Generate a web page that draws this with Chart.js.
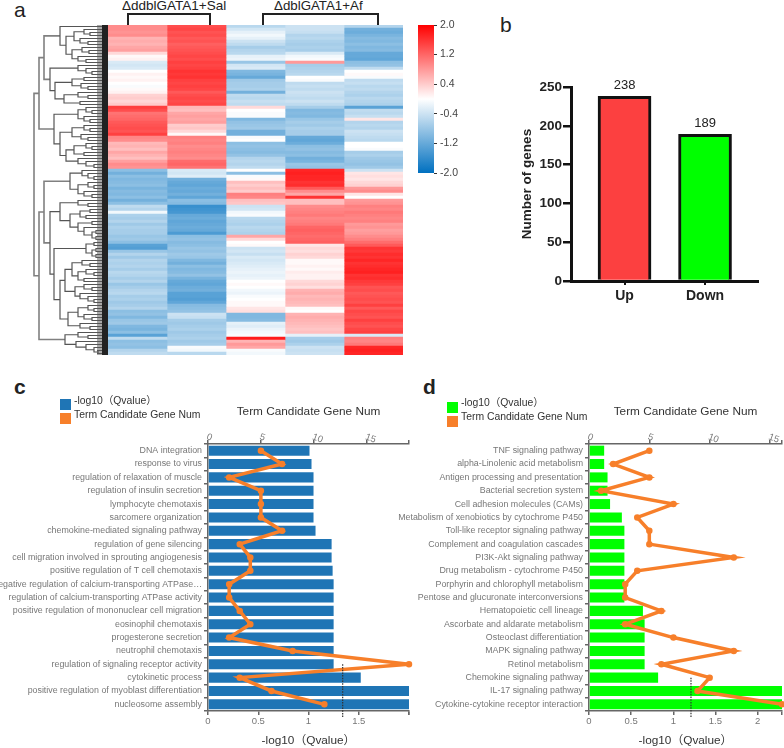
<!DOCTYPE html>
<html>
<head>
<meta charset="utf-8">
<title>DEG heatmap and enrichment</title>
<script src="https://cdn.jsdelivr.net/npm/chart.js@4"></script>
<style>
  html, body { margin: 0; padding: 0; background: #fff; }
  #page { position: relative; width: 784px; height: 748px; overflow: hidden; font-family: 'Liberation Sans', 'Noto Sans CJK SC', sans-serif; }
  canvas { position: absolute; }
  .txt { position: absolute; white-space: nowrap; color: #222; line-height: 1; }
  .panel { font-size: 21px; color: #222; }
  .bracket { position: absolute; height: 10px; border: 2px solid #222; border-bottom: none; }
  .swatch { position: absolute; width: 11px; height: 11px; }
</style>
</head>
<body>
<div id="page">
  <div class="txt panel" style="left:14px;top:-1px">a</div>
  <div class="txt panel" style="left:500px;top:14px">b</div>
  <div class="txt panel" style="left:14px;top:376px;font-weight:bold">c</div>
  <div class="txt panel" style="left:423px;top:376px;font-weight:bold">d</div>

  <div class="txt" style="left:122px;top:-1px;font-size:13.5px">ΔddblGATA1+Sal</div>
  <div class="txt" style="left:274px;top:-1px;font-size:13.3px">ΔdblGATA1+Af</div>
  <div class="bracket" style="left:127px;top:13px;width:80px"></div>
  <div class="bracket" style="left:262px;top:13px;width:113px"></div>

  <canvas id="dendro" width="78" height="330" style="left:30px;top:25px"></canvas>
  <canvas id="heat" width="295" height="330" style="left:108px;top:25px"></canvas>
  <canvas id="colorbar" width="60" height="170" style="left:410px;top:15px"></canvas>
  <canvas id="genes" width="274" height="260" style="left:510px;top:60px"></canvas>
  <canvas id="goUp" width="420" height="363" style="left:0;top:385px"></canvas>
  <canvas id="keggDown" width="430" height="363" style="left:380px;top:385px"></canvas>

  <div class="swatch" style="left:60px;top:399px;background:#1f75b5"></div>
  <div class="swatch" style="left:60px;top:413px;background:#f77f2a"></div>
  <div class="txt" style="left:74px;top:396px;font-size:10.4px;color:#333">-log10（Qvalue）</div>
  <div class="txt" style="left:74px;top:410px;font-size:10.4px;color:#333">Term Candidate Gene Num</div>
  <div class="swatch" style="left:447px;top:402px;background:#00ff00"></div>
  <div class="swatch" style="left:447px;top:416px;background:#f77f2a"></div>
  <div class="txt" style="left:461px;top:398px;font-size:10.4px;color:#333">-log10（Qvalue）</div>
  <div class="txt" style="left:461px;top:412px;font-size:10.4px;color:#333">Term Candidate Gene Num</div>
</div>

<script>
// panel a, z-scores per sample, read top to bottom
const heatSal1 = [.9,.9,.85,.9,.6,.65,.6,.7,.75,.3,
  .05,.1,-.3,-.35,-.3,0,.1,.05,.1,0,
  -.05,.05,.1,.35,.4,.3,.4,1.5,1.4,1.1,
  1.15,1.2,1.3,1.35,1.4,1.35,1.5,.95,.9,.55,
  .6,.5,.7,.6,.5,.75,.9,.85,-.9,-1.1,
  -.9,-1,-.95,-.9,-1.05,-.95,-1,-.9,-1.1,-.9,
  -.5,-.6,-.1,-.65,-.7,-.6,-.75,-.65,-.7,-.7,
  -.8,-.75,-.9,-1.3,-1.35,-.8,-.6,-.75,-.6,-.65,
  -.6,-.7,-.55,-.6,-.7,-.6,-.8,-.7,-.6,-.55,
  -.7,-.65,-.75,-.7,-.6,-.9,-.85,-1,-.8,-.75,
  -1,-1.05,-.9,-1.3,-.5,-.9,-.85,-.9,-.6,-.5];
const heatSal2 = [1.4,1.45,1.35,1.4,1.3,1.35,1.25,1.3,1.35,1.4,
  1.45,1.4,1.5,1.45,1.5,1.6,1.55,1.6,1.5,1.45,
  1.5,1.45,1.3,1.4,1.45,1.4,1.45,.55,.5,.7,
  .75,.7,.75,.4,.45,.3,.05,1,.95,1,
  .9,.95,1,.95,.9,1.15,1.2,1.1,-.3,-.35,
  -.25,-1.1,-1.2,-1.25,-1.15,-1.2,-1.1,-1.25,-.9,-.95,
  -1.55,-1.5,-1.45,-1.2,-1.15,-1.25,-1.2,-1.15,-1.2,-1.4,
  -.9,-.85,-.95,-.9,-.8,-.85,-.75,-.8,-1,-1.1,
  -.9,-1,-.95,-.85,-1.05,-1.2,-1.25,-1.15,-1.1,-1.3,
  -1.3,-1.35,-1.25,-.95,-.9,-.85,-.4,-.45,-.7,-.75,
  -.7,-.65,-.75,-.7,-.65,-.75,-.7,-.05,-.1,-.55];
const heatAf1 = [-.55,-.35,-.2,-.1,-.2,-.4,-.5,-.7,-.6,-.55,
  -.2,-.15,-.8,-.35,-.3,-1,-1.05,-1.2,-.75,-.7,
  -.7,-.65,-1.1,-.5,-.55,-.45,-.5,.3,0,-.05,
  -.05,-1,-.85,-.8,-.75,-1.1,-1.1,-.05,0,-.9,
  -.85,-.9,-.95,-.85,-.6,-.55,-.6,-.5,0,-.9,
  -.05,.05,.5,.4,.5,.4,1,.95,.5,.45,
  -.4,-.35,-.1,-.05,-.55,-.6,-.65,-.55,-.6,-.65,
  .7,.3,0,.05,-.4,-.35,-.45,-.3,-.35,-.3,
  -.25,-.2,-.15,-.2,-.15,0,.05,0,-.1,-.15,
  -.05,0,.05,.05,.2,.25,-1,-1,-.95,-.2,
  -.25,-.15,-.1,-.05,1.8,.6,.8,.7,-.05,-.1];
const heatAf2 = [-.4,-.4,-.45,-.6,-.55,-.65,-.7,-.65,-.7,-.3,
  -.1,-.05,.8,-.7,-.65,-.6,-.55,0,-.05,-.5,
  -.45,-.5,-.4,-.45,-.5,-.4,-.5,-.7,-1,-.95,
  -1,-.8,-.7,-.75,-.65,-.7,-.7,-1.2,-1.25,-1.15,
  -.9,-.85,-.95,-.9,-1.1,-1.05,-.8,-.85,1.7,1.75,
  1.7,1.7,1.6,1.65,1.3,.9,.7,1.6,.5,.5,
  .9,.95,1,1.05,.95,1,1.05,1.2,1.25,1.2,
  1.15,1.2,1.25,.2,.3,.25,.35,.3,.05,.05,
  .1,.05,.15,.1,.1,.3,.35,.25,.6,.65,
  .55,.6,.55,.5,.05,0,.6,.65,.6,.55,
  .5,.45,.5,-.2,-.7,-.75,-.65,-.4,-.45,-.4];
const heatAf3 = [-.6,-1.1,-1.15,-1.05,-.95,-1,-.9,-1,-.95,-1.2,
  -1.2,-1.25,-.9,-.85,-.5,0,.05,-.05,-.5,-.45,
  -.55,-.5,-.6,-.65,-.55,-.6,-.65,-1.3,-.5,-.55,
  -.45,.2,-.6,-.55,-.6,-.4,-.45,-.5,-.55,0,
  0,-.05,-.7,-.65,-.75,-.8,-.85,-.75,-.4,.2,
  .25,.2,.3,.35,.8,.9,.2,0,.8,.85,
  1,.95,1.05,1,.95,1,.8,.85,.75,.8,
  .9,1,1.15,1.3,1.6,1.55,1.65,1.6,1.7,1.6,
  1.65,1.7,1.75,1.6,1.65,1.55,1.5,1.35,1.4,1.3,
  1.35,1.4,1.35,1.5,1.3,1.45,1.4,1.35,1.5,1.4,
  1.35,1.45,1.5,-.3,1,.95,1.05,1.7,1.75,1.7];

// row clustering: [merge distance, upper child, lower child], a plain number is a leaf row
const rowTree = [74,
  [69,
    [64,
      [48, 0, [42, [34, [24, 1, [18, 2, 3]], [28, 4, [20, 5, 6]]], [36, [26, 7, [19, 8, 9]], [30, 10, [22, 11, 12]]]]],
      [58, [30, 13, [22, 14, [16, 15, 16]]], [53, [36, [24, 17, 18], [27, 19, [20, 20, 21]]], [44, [30, 22, [20, 23, 24]], [28, 25, 26]]]]
    ],
    [54,
      [30, [22, 27, [16, 28, 29]], [24, 30, [18, 31, 32]]],
      [48, [36, [24, 33, [18, 34, 35]], [27, 36, [20, 37, 38]]], [42, [34, [22, 39, [16, 40, 41]], [24, 42, 43]], [30, 44, [22, 45, [14, 46, 47]]]]]
    ]
  ],
  [69,
    [64,
      [38, [26, 48, [20, 49, [14, 50, 51]]], [30, [20, 52, [14, 53, 54]], [24, 55, [16, 56, 57]]]],
      [58,
        [48, [30, 58, [20, 59, 60]], [38, [28, [18, 61, 62], [22, 63, 64]], [30, [16, 65, 66], [24, 67, [16, [12, 68, 69], [12, 70, 71]]]]]],
        [54,
          [22, [14, 72, 73], [16, [12, 74, 75], [12, 76, 77]]],
          [48,
            [43, [36, [26, 78, [18, 79, 80]], [30, [22, 81, [14, 82, 83]], [24, 84, 85]]], [33, [24, 86, [16, 87, 88]], [28, 89, [20, 90, [14, 91, 92]]]]],
            [40, [30, [20, 93, [14, 94, 95]], [24, 96, [16, 97, 98]]], [28, 99, [18, 100, 101]]]
          ]
        ]
      ]
    ],
    [43, [30, 102, [20, 103, 104]], [32, 105, [22, 106, [14, 107, [10, 108, 109]]]]]
  ]
];

const colorbarTicks = [2.0, 1.2, 0.4, -0.4, -1.2, -2.0];

// panel b
const geneGroups = ['Up', 'Down'];
const geneCounts = [238, 189];
const geneColors = ['#fc4040', '#00ff00'];

// panel c
const goTerms = ['DNA integration', 'response to virus', 'regulation of relaxation of muscle',
  'regulation of insulin secretion', 'lymphocyte chemotaxis', 'sarcomere organization',
  'chemokine-mediated signaling pathway', 'regulation of gene silencing',
  'cell migration involved in sprouting angiogenesis', 'positive regulation of T cell chemotaxis',
  'negative regulation of calcium-transporting ATPase…', 'regulation of calcium-transporting ATPase activity',
  'positive regulation of mononuclear cell migration', 'eosinophil chemotaxis', 'progesterone secretion',
  'neutrophil chemotaxis', 'regulation of signaling receptor activity', 'cytokinetic process',
  'positive regulation of myoblast differentiation', 'nucleosome assembly'];
const goQvalue = [1.01, 1.03, 1.05, 1.05, 1.05, 1.05, 1.07, 1.23, 1.23, 1.24, 1.25, 1.25, 1.25, 1.25, 1.25, 1.25, 1.25, 1.52, 2, 2];
const goGeneNum = [5, 7, 2, 5, 5, 5, 7, 3, 4, 4, 2, 2, 3, 4, 2, 8, 19, 3, 6, 11];

// panel d
const keggTerms = ['TNF signaling pathway', 'alpha-Linolenic acid metabolism', 'Antigen processing and presentation',
  'Bacterial secretion system', 'Cell adhesion molecules (CAMs)', 'Metabolism of xenobiotics by cytochrome P450',
  'Toll-like receptor signaling pathway', 'Complement and coagulation cascades', 'PI3K-Akt signaling pathway',
  'Drug metabolism - cytochrome P450', 'Porphyrin and chlorophyll metabolism', 'Pentose and glucuronate interconversions',
  'Hematopoietic cell lineage', 'Ascorbate and aldarate metabolism', 'Osteoclast differentiation',
  'MAPK signaling pathway', 'Retinol metabolism', 'Chemokine signaling pathway', 'IL-17 signaling pathway',
  'Cytokine-cytokine receptor interaction'];
const keggQvalue = [.18, .18, .22, .22, .25, .39, .42, .42, .42, .42, .42, .42, .64, .66, .66, .66, .66, .82, 2.29, 2.29];
const keggGeneNum = [5, 2, 5, 1, 7, 4, 5, 5, 12, 4, 3, 3, 6, 3, 7, 12, 6, 10, 9, 16];

Chart.defaults.animation = false;
Chart.defaults.responsive = false;
Chart.defaults.font.family = "'Liberation Sans', 'Noto Sans CJK SC', sans-serif";
Chart.defaults.plugins.legend.display = false;
Chart.defaults.plugins.tooltip.enabled = false;

const BLUE = [0, 112, 192];
const RED = [255, 0, 0];

function heatColor(z) {
  let t = Math.min(Math.abs(z) / 2, 1);
  let c = z < 0 ? BLUE : RED;
  return 'rgb(' + c.map(v => Math.round(255 + (v - 255) * t)).join(',') + ')';
}

// panel a - stacked bars, one cell per sample per row
new Chart(document.getElementById('heat'), {
  type: 'bar',
  data: {
    labels: heatSal1.map((v, i) => i),
    datasets: [heatSal1, heatSal2, heatAf1, heatAf2, heatAf3].map(col => ({
      data: col.map(() => 1),
      backgroundColor: col.map(heatColor),
      barPercentage: 1,
      categoryPercentage: 1,
      borderWidth: 0
    }))
  },
  options: {
    indexAxis: 'y',
    scales: {
      x: { stacked: true, display: false, min: 0, max: 5 },
      y: { stacked: true, display: false }
    }
  }
});

// dendrogram segments come out of the nested tree
const LEAF = 11;
let innerLine = [];
let outerLine = [];
let leafLine = [];

function walkTree(node) {
  if (typeof node === 'number') return { d: LEAF, r: node + 0.5 };
  let a = walkTree(node[1]);
  let b = walkTree(node[2]);
  let target = node[0] >= 60 ? outerLine : innerLine;
  target.push({ x: a.d, y: a.r }, { x: node[0], y: a.r }, { x: node[0], y: b.r }, { x: b.d, y: b.r }, { x: null, y: null });
  return { d: node[0], r: (a.r + b.r) / 2 };
}
walkTree(rowTree);
heatSal1.forEach((v, i) => leafLine.push({ x: 11, y: i + 0.5 }, { x: 6, y: i + 0.5 }, { x: null, y: null }));

new Chart(document.getElementById('dendro'), {
  type: 'scatter',
  data: {
    datasets: [
      { data: leafLine, showLine: true, pointRadius: 0, borderColor: '#555', borderWidth: 2, clip: false },
      { data: [{ x: 3, y: 0 }, { x: 3, y: 110 }], showLine: true, pointRadius: 0, borderColor: '#222', borderWidth: 6, clip: false },
      { data: innerLine, showLine: true, pointRadius: 0, borderColor: '#555', borderWidth: 1.2, clip: false },
      { data: outerLine, showLine: true, pointRadius: 0, borderColor: '#808080', borderWidth: 1.6, clip: false }
    ]
  },
  options: {
    scales: {
      x: { type: 'linear', reverse: true, display: false, min: 0, max: 78 },
      y: { type: 'linear', reverse: true, display: false, min: 0, max: 110 }
    }
  }
});

// colour key
new Chart(document.getElementById('colorbar'), {
  type: 'bar',
  data: {
    labels: ['z'],
    datasets: [{
      data: [[-2, 2]],
      barPercentage: 1,
      categoryPercentage: 1,
      backgroundColor: function (ctx) {
        let area = ctx.chart.chartArea;
        if (!area) return '#fff';
        let g = ctx.chart.ctx.createLinearGradient(0, area.bottom, 0, area.top);
        g.addColorStop(0, heatColor(-2));
        g.addColorStop(0.5, heatColor(0));
        g.addColorStop(1, heatColor(2));
        return g;
      }
    }]
  },
  options: {
    layout: { padding: { left: 8, top: 10, bottom: 12 } },
    scales: {
      x: { display: false },
      y: {
        position: 'right',
        min: -2,
        max: 2,
        afterFit: axis => { axis.width = 36; },
        afterBuildTicks: axis => { axis.ticks = colorbarTicks.map(v => ({ value: v })); },
        border: { display: false },
        grid: { drawOnChartArea: false, tickLength: 3, color: '#333', lineWidth: 1 },
        ticks: { color: '#444', font: { size: 10.5 }, padding: 3, callback: v => v.toFixed(1) }
      }
    }
  }
});

// panel b - linear x because the bars do not sit evenly on the axis
const barValueLabels = {
  id: 'barValueLabels',
  afterDatasetsDraw(chart) {
    let ctx = chart.ctx;
    ctx.save();
    ctx.font = '13px "Liberation Sans"';
    ctx.fillStyle = '#222';
    ctx.textAlign = 'center';
    chart.getDatasetMeta(0).data.forEach((bar, i) => {
      ctx.fillText(geneCounts[i], bar.x, bar.y - 7);
    });
    ctx.restore();
  }
};

new Chart(document.getElementById('genes'), {
  type: 'bar',
  data: {
    datasets: [{
      data: geneCounts.map((v, i) => ({ x: i, y: v })),
      backgroundColor: geneColors,
      borderColor: '#111',
      borderWidth: 3,
      barThickness: 53
    }]
  },
  plugins: [barValueLabels],
  options: {
    layout: { padding: { top: 27, right: 26 } },
    scales: {
      x: {
        type: 'linear',
        offset: false,
        min: -0.665,
        max: 1.658,
        afterFit: axis => { axis.height = 39; },
        border: { color: '#111', width: 3 },
        grid: { offset: false, drawOnChartArea: false, tickLength: 4, color: '#111', lineWidth: 2 },
        ticks: {
          stepSize: 1,
          includeBounds: false,
          color: '#222',
          font: { size: 14, weight: 'bold' },
          padding: 3,
          callback: v => geneGroups[v]
        }
      },
      y: {
        min: 0,
        max: 250,
        afterFit: axis => { axis.width = 61; },
        border: { color: '#111', width: 3 },
        grid: { drawOnChartArea: false, tickLength: 8, color: '#111', lineWidth: 2.5 },
        ticks: { stepSize: 50, color: '#222', font: { size: 13.5, weight: 'bold' }, padding: 1 },
        title: { display: true, text: 'Number of genes', color: '#222', font: { size: 13.5, weight: 'bold' }, padding: { top: 9, bottom: 0 } }
      }
    }
  }
});

// panels c and d share everything but the numbers
const qCutoff = {
  id: 'qCutoff',
  afterDatasetsDraw(chart, args, opts) {
    let x = chart.scales.xBottom.getPixelForValue(opts.value);
    let y0 = chart.scales.y.getPixelForValue(opts.fromRow);
    let ctx = chart.ctx;
    ctx.save();
    ctx.strokeStyle = '#333';
    ctx.lineWidth = 1.2;
    ctx.setLineDash([1.5, 1.2]);
    ctx.beginPath();
    ctx.moveTo(x, y0);
    ctx.lineTo(x, chart.chartArea.bottom + 6);
    ctx.stroke();
    ctx.restore();
  }
};

function enrichChart(id, terms, qvalues, geneNums, barColor, qMax, geneMax, cutoff, fromRow, axisWidth, rightPad) {
  const AXIS = '#666';
  const TICK = '#777';
  new Chart(document.getElementById(id), {
    data: {
      labels: terms,
      datasets: [
        {
          type: 'line',
          indexAxis: 'y',
          data: geneNums,
          xAxisID: 'xTop',
          order: 0,
          borderColor: '#f77f2a',
          backgroundColor: '#f77f2a',
          borderWidth: 3.5,
          pointRadius: 1.5,
          tension: 0,
          clip: false
        },
        {
          type: 'bar',
          indexAxis: 'y',
          data: qvalues,
          xAxisID: 'xBottom',
          order: 1,
          backgroundColor: barColor,
          barPercentage: 0.75,
          categoryPercentage: 1
        }
      ]
    },
    plugins: [qCutoff],
    options: {
      indexAxis: 'y',
      layout: { padding: { right: rightPad } },
      plugins: { qCutoff: { value: cutoff, fromRow: fromRow } },
      scales: {
        xTop: {
          position: 'top',
          min: 0,
          max: geneMax,
          afterFit: axis => { axis.height = 59; },
          afterBuildTicks: axis => { axis.ticks = [0, 5, 10, 15, geneMax].map(v => ({ value: v })); },
          border: { color: AXIS, width: 1.5 },
          grid: { drawOnChartArea: false, tickLength: 4, color: AXIS, lineWidth: 1.5 },
          ticks: {
            color: TICK,
            font: { size: 9.5 },
            padding: -2,
            labelOffset: -5,
            minRotation: -20,
            maxRotation: -20,
            callback: v => (v % 5 === 0 ? v : '')
          },
          title: { display: true, text: 'Term Candidate Gene Num', color: '#333', font: { size: 11.8 }, padding: { top: 20, bottom: 0 } }
        },
        xBottom: {
          position: 'bottom',
          min: 0,
          max: qMax,
          afterFit: axis => { axis.height = 37; },
          afterBuildTicks: axis => { axis.ticks = [0, 0.5, 1, 1.5, 2, qMax].map(v => ({ value: v })); },
          border: { color: AXIS, width: 1.5 },
          grid: { drawOnChartArea: false, tickLength: 4, color: AXIS, lineWidth: 1.5 },
          ticks: {
            color: TICK,
            font: { size: 9.5 },
            padding: 1,
            maxRotation: 0,
            autoSkip: false,
            callback: v => ((v === qMax && v >= 2) ? '' : v)
          },
          title: { display: true, text: '-log10（Qvalue）', color: '#333', font: { size: 11.8 }, padding: { top: 0, bottom: 0 } }
        },
        y: {
          afterFit: axis => { axis.width = axisWidth; },
          border: { color: AXIS, width: 1.5 },
          grid: { drawOnChartArea: false, tickLength: 4, color: AXIS, lineWidth: 1.5 },
          ticks: { color: TICK, font: { size: 8.85 }, padding: 2, autoSkip: false }
        }
      }
    }
  });
}

enrichChart('goUp', goTerms, goQvalue, goGeneNum, '#1f75b5', 2, 19, 1.34, 16, 208, 11);
enrichChart('keggDown', keggTerms, keggQvalue, keggGeneNum, '#00ff00', 2.29, 16, 1.21, 17, 209, 28);
</script>
</body>
</html>
